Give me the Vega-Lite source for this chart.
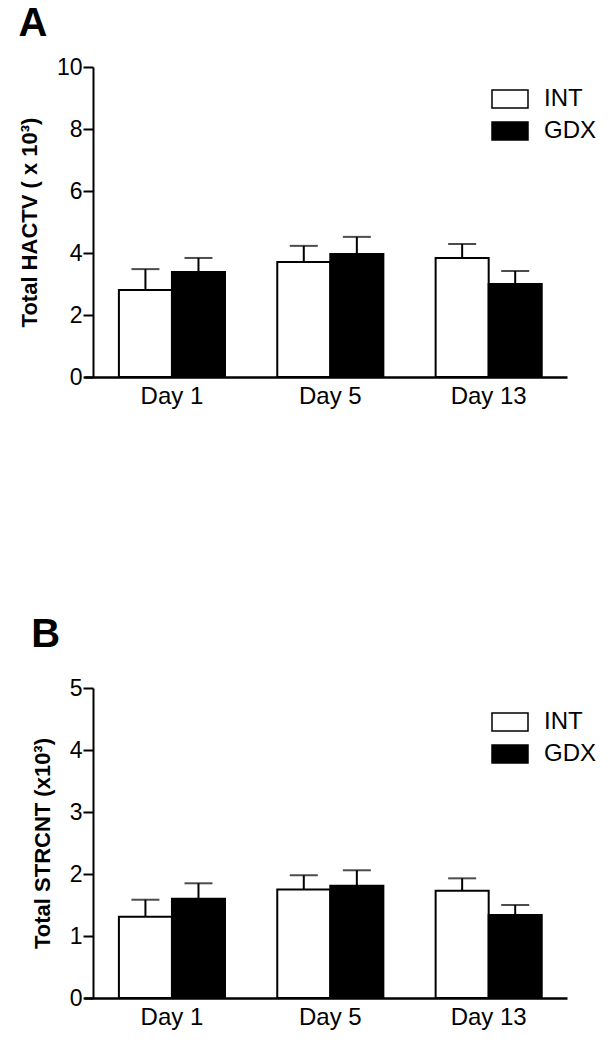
{
  "$schema": "https://vega.github.io/schema/vega-lite/v6.json",
  "padding": {"left": 18, "top": 4, "right": 5, "bottom": 5},
  "background": "white",
  "config": {
    "font": "Liberation Sans",
    "view": {"stroke": null},
    "axis": {"grid": false, "domainColor": "black", "tickColor": "black", "labelColor": "black", "titleColor": "black", "labelFont": "Liberation Sans", "titleFont": "Liberation Sans"},
    "legend": {"labelColor": "black", "labelFont": "Liberation Sans"},
    "title": {"color": "black", "font": "Liberation Sans"}
  },
  "datasets": {
    "a": [
      {"day": "Day 1", "group": "INT", "mean": 2.81, "upper": 3.48},
      {"day": "Day 1", "group": "GDX", "mean": 3.39, "upper": 3.84},
      {"day": "Day 5", "group": "INT", "mean": 3.71, "upper": 4.23},
      {"day": "Day 5", "group": "GDX", "mean": 3.97, "upper": 4.52},
      {"day": "Day 13", "group": "INT", "mean": 3.84, "upper": 4.29},
      {"day": "Day 13", "group": "GDX", "mean": 3.0, "upper": 3.42}
    ],
    "b": [
      {"day": "Day 1", "group": "INT", "mean": 1.31, "upper": 1.585},
      {"day": "Day 1", "group": "GDX", "mean": 1.6, "upper": 1.85},
      {"day": "Day 5", "group": "INT", "mean": 1.75, "upper": 1.98},
      {"day": "Day 5", "group": "GDX", "mean": 1.81, "upper": 2.06},
      {"day": "Day 13", "group": "INT", "mean": 1.73, "upper": 1.93},
      {"day": "Day 13", "group": "GDX", "mean": 1.34, "upper": 1.5}
    ]
  },
  "spacing": 207,
  "vconcat": [
    {
      "title": {"text": "A", "anchor": "start", "frame": "bounds", "fontSize": 40, "fontWeight": "bold", "offset": 12},
      "width": 483,
      "height": 310,
      "data": {"name": "a"},
      "encoding": {
        "x": {"field": "day", "type": "nominal", "sort": ["Day 1", "Day 5", "Day 13"], "scale": {"paddingInner": 0.33, "paddingOuter": 0.19, "align": 0.58}, "axis": {"title": null, "labelAngle": 0, "ticks": false, "domainWidth": 2.5, "labelFontSize": 24, "labelPadding": 7}},
        "xOffset": {"field": "group", "type": "nominal", "sort": ["INT", "GDX"], "scale": {"paddingInner": 0, "paddingOuter": 0}}
      },
      "layer": [
        {
          "mark": {"type": "rule", "strokeWidth": 2, "color": "black"},
          "encoding": {"y": {"field": "upper", "type": "quantitative", "title": "Total HACTV ( x 10³)", "axis": {"values": [0, 2, 4, 6, 8, 10], "offset": -9, "tickSize": 10, "tickWidth": 2, "domainWidth": 2, "labelFontSize": 23, "labelPadding": 1, "titleFontSize": 22, "titleFontWeight": "bold", "titlePadding": 15}}, "y2": {"field": "mean"}}
        },
        {
          "mark": {"type": "bar", "stroke": "black", "strokeWidth": 2},
          "encoding": {
            "y": {"field": "mean", "type": "quantitative", "title": "Total HACTV ( x 10³)", "scale": {"domain": [0, 10]}, "axis": {"values": [0, 2, 4, 6, 8, 10], "offset": -9, "tickSize": 10, "tickWidth": 2, "domainWidth": 2, "labelFontSize": 23, "labelPadding": 1, "titleFontSize": 22, "titleFontWeight": "bold", "titlePadding": 15}},
            "fill": {"field": "group", "type": "nominal", "scale": {"domain": ["INT", "GDX"], "range": ["white", "black"]}, "legend": {"title": null, "orient": "none", "legendX": 407, "legendY": 13, "symbolType": "M-1,-0.5H1V0.5H-1Z", "symbolSize": 1296, "symbolStrokeColor": "black", "symbolStrokeWidth": 1.5, "labelFontSize": 24, "labelOffset": 15, "rowPadding": 1}}
          }
        },
        {
          "mark": {"type": "tick", "thickness": 2, "size": 28, "color": "black"},
          "encoding": {"y": {"field": "upper", "type": "quantitative", "title": "Total HACTV ( x 10³)", "axis": {"values": [0, 2, 4, 6, 8, 10], "offset": -9, "tickSize": 10, "tickWidth": 2, "domainWidth": 2, "labelFontSize": 23, "labelPadding": 1, "titleFontSize": 22, "titleFontWeight": "bold", "titlePadding": 15}}}
        }
      ]
    },
    {
      "title": {"text": "B", "anchor": "start", "frame": "bounds", "fontSize": 40, "fontWeight": "bold", "offset": 22},
      "width": 483,
      "height": 310,
      "data": {"name": "b"},
      "encoding": {
        "x": {"field": "day", "type": "nominal", "sort": ["Day 1", "Day 5", "Day 13"], "scale": {"paddingInner": 0.33, "paddingOuter": 0.19, "align": 0.58}, "axis": {"title": null, "labelAngle": 0, "ticks": false, "domainWidth": 2.5, "labelFontSize": 24, "labelPadding": 7}},
        "xOffset": {"field": "group", "type": "nominal", "sort": ["INT", "GDX"], "scale": {"paddingInner": 0, "paddingOuter": 0}}
      },
      "layer": [
        {
          "mark": {"type": "rule", "strokeWidth": 2, "color": "black"},
          "encoding": {"y": {"field": "upper", "type": "quantitative", "title": "Total STRCNT (x10³)", "axis": {"values": [0, 1, 2, 3, 4, 5], "offset": -9, "tickSize": 10, "tickWidth": 2, "domainWidth": 2, "labelFontSize": 23, "labelPadding": 1, "titleFontSize": 22, "titleFontWeight": "bold", "titlePadding": 15}}, "y2": {"field": "mean"}}
        },
        {
          "mark": {"type": "bar", "stroke": "black", "strokeWidth": 2},
          "encoding": {
            "y": {"field": "mean", "type": "quantitative", "title": "Total STRCNT (x10³)", "scale": {"domain": [0, 5]}, "axis": {"values": [0, 1, 2, 3, 4, 5], "offset": -9, "tickSize": 10, "tickWidth": 2, "domainWidth": 2, "labelFontSize": 23, "labelPadding": 1, "titleFontSize": 22, "titleFontWeight": "bold", "titlePadding": 15}},
            "fill": {"field": "group", "type": "nominal", "scale": {"domain": ["INT", "GDX"], "range": ["white", "black"]}, "legend": {"title": null, "orient": "none", "legendX": 407, "legendY": 15, "symbolType": "M-1,-0.5H1V0.5H-1Z", "symbolSize": 1296, "symbolStrokeColor": "black", "symbolStrokeWidth": 1.5, "labelFontSize": 24, "labelOffset": 15, "rowPadding": 1}}
          }
        },
        {
          "mark": {"type": "tick", "thickness": 2, "size": 28, "color": "black"},
          "encoding": {"y": {"field": "upper", "type": "quantitative", "title": "Total STRCNT (x10³)", "axis": {"values": [0, 1, 2, 3, 4, 5], "offset": -9, "tickSize": 10, "tickWidth": 2, "domainWidth": 2, "labelFontSize": 23, "labelPadding": 1, "titleFontSize": 22, "titleFontWeight": "bold", "titlePadding": 15}}}
        }
      ]
    }
  ],
  "resolve": {"scale": {"fill": "independent"}, "legend": {"fill": "independent"}}
}
